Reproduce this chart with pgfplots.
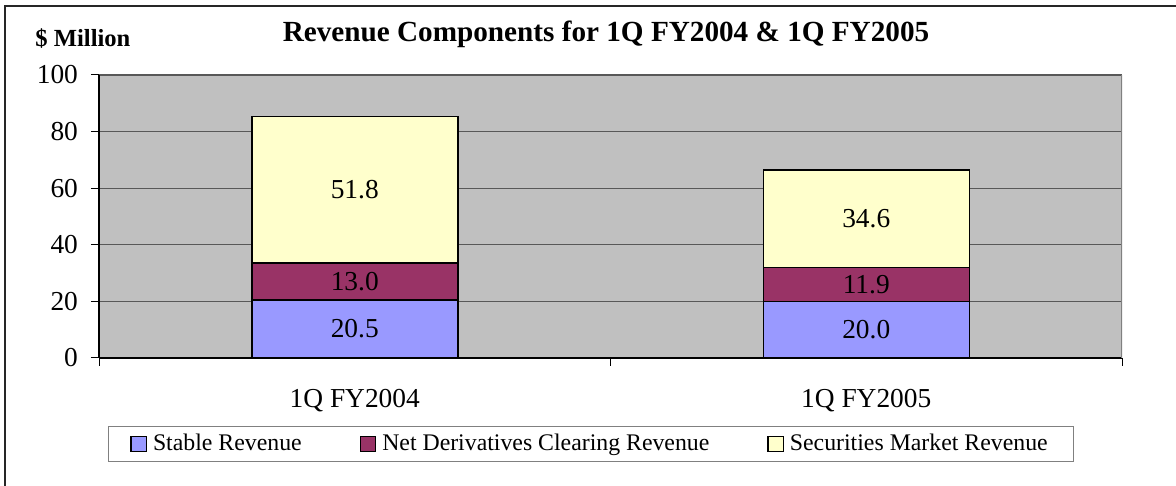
\documentclass[border=0pt]{standalone}
\usepackage{pgfplots}
\pgfplotsset{compat=1.18}
\usepackage{fontspec}
\setmainfont{Liberation Serif}
\definecolor{cblue}{HTML}{9999FF}
\definecolor{cmaroon}{HTML}{993366}
\definecolor{cyellow}{HTML}{FFFFCC}
\definecolor{cback}{HTML}{C0C0C0}
\definecolor{cgrid}{HTML}{585858}
\definecolor{cedge}{HTML}{808080}
\pgfplotsset{/pgf/number format/assume math mode=true}
\newcommand{\tickfont}{\fontsize{13.7pt}{16pt}\selectfont}
\newcommand{\legfont}{\fontsize{11.9pt}{14pt}\selectfont}
\begin{document}
\begin{tikzpicture}
\useasboundingbox (0,0) rectangle (588pt,243pt);
\fill[white] (0,0) rectangle (588pt,243pt);
\draw[line width=0.8pt, black!85] (2.5pt,-5pt) |- (595pt,240pt);
\node[anchor=base, font=\fontsize{14.6pt}{17pt}\selectfont\bfseries] at (303pt,222pt) {Revenue Components for 1Q FY2004 \& 1Q FY2005};
\node[anchor=base west, inner sep=0pt, font=\fontsize{12.3pt}{15pt}\selectfont\bfseries] at (17.5pt,219.5pt) {\$ Million};
\begin{axis}[
  at={(49.5pt,64pt)}, anchor=south west,
  width=511.5pt, height=141.5pt, scale only axis,
  xmin=-0.5, xmax=1.5, ymin=0, ymax=100,
  ybar stacked, bar width=103pt,
  legend image code/.code={\draw[#1, draw=black, line width=0.6pt] (0pt,-3.8pt) rectangle (7.6pt,3.8pt); \path (8.6pt,0pt);},
  axis background/.style={fill=cback},
  axis x line*=bottom, axis y line*=left,
  axis line style={-, black, line width=0.75pt},
  ytick={0,20,...,100},
  ymajorgrids, major grid style={draw=cgrid, line width=0.6pt},
  xtick={0,1}, xticklabels={1Q FY2004,1Q FY2005},
  xtick style={draw=none},
  extra x ticks={-0.5,0.5,1.5}, extra x tick labels={},
  extra x tick style={xtick style={draw=black, line width=0.5pt}},
  ytick style={draw=black, line width=0.5pt},
  tick align=outside, major tick length=4pt,
  ticklabel style={font=\tickfont},
  yticklabel style={xshift=-3pt},
  xticklabel style={yshift=-8pt},
  nodes near coords={\pgfmathprintnumber[fixed,fixed zerofill,precision=1]{\pgfplotspointmeta}},
  point meta=explicit,
  every node near coord/.append style={anchor=center, font=\tickfont},
  legend columns=3,
  legend style={at={(0.481,-0.304)}, anchor=center, draw=cedge, line width=0.6pt, font=\legfont,
    inner xsep=11pt, inner ysep=2pt,
    /tikz/every even column/.append style={column sep=27pt}},
  every axis plot/.append style={draw=black, line width=0.75pt},
]
\addplot[fill=cblue] coordinates {(0,20.5) [20.5] (1,20.0) [20.0]};
\addlegendentry{Stable Revenue}
\addplot[fill=cmaroon] coordinates {(0,13.0) [13.0] (1,11.9) [11.9]};
\addlegendentry{Net Derivatives Clearing Revenue}
\addplot[fill=cyellow] coordinates {(0,51.8) [51.8] (1,34.6) [34.6]};
\addlegendentry{Securities Market Revenue}
\draw[cedge, line width=0.9pt] (rel axis cs:1,0) -- (rel axis cs:1,1);
\end{axis}
\end{tikzpicture}
\end{document}
